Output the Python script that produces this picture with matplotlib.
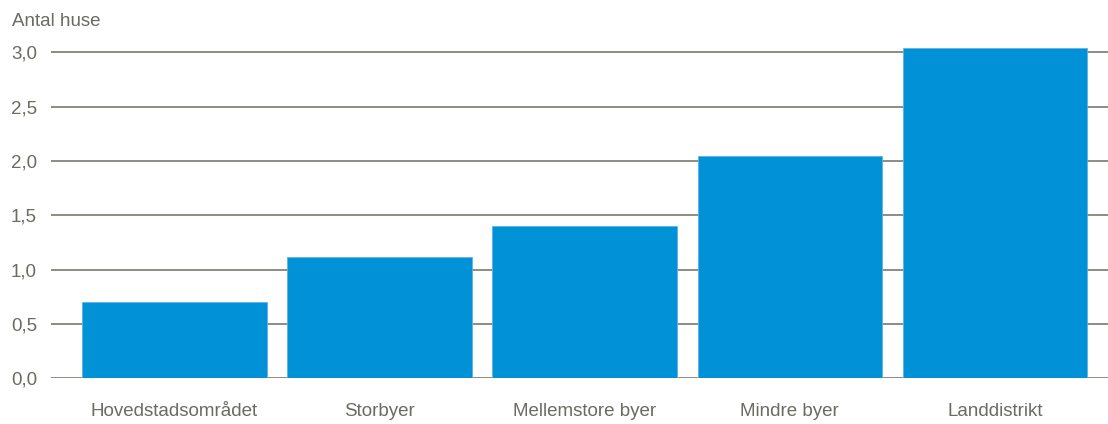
import matplotlib.pyplot as plt

plt.rcParams['font.family'] = ['Liberation Sans', 'DejaVu Sans']

regions = ['Hovedstadsområdet', 'Storbyer', 'Mellemstore byer', 'Mindre byer', 'Landdistrikt']
houses = [0.70, 1.12, 1.40, 2.05, 3.04]
yticks = [0.0, 0.5, 1.0, 1.5, 2.0, 2.5, 3.0]

text_col = '#6b6b62'
grid_col = '#8c8c82'
bar_col = '#0091d6'
fs = 13.5

fig = plt.figure(figsize=(11.08, 4.24), dpi=100)
ax = fig.add_axes([51 / 1108, 1 - 378.3 / 424, 1 - 51 / 1108, (3.1 * 108.67) / 424])

x = range(len(regions))
ax.bar(x, houses, width=0.9, color=bar_col, edgecolor='#5fb5e3', linewidth=0.6, zorder=3)

for t in yticks:
    ax.axhline(t, color=grid_col, linewidth=1.4, zorder=1)

ax.set_ylim(0, 3.1)
ax.set_xlim(-0.6, 4.55)
ax.set_yticks(yticks)
ax.set_yticklabels([f'{t:.1f}'.replace('.', ',') for t in yticks])
ax.set_xticks(list(x))
ax.set_xticklabels(regions)
ax.tick_params(axis='y', length=0, pad=10, labelsize=fs, labelcolor=text_col)
ax.tick_params(axis='x', length=0, pad=18, labelsize=fs, labelcolor=text_col)
for s in ax.spines.values():
    s.set_visible(False)

fig.text(12 / 1108, 1 - 21 / 424, 'Antal huse', fontsize=fs, color=text_col, va='center', ha='left')

fig.savefig('out.png', dpi=100)
